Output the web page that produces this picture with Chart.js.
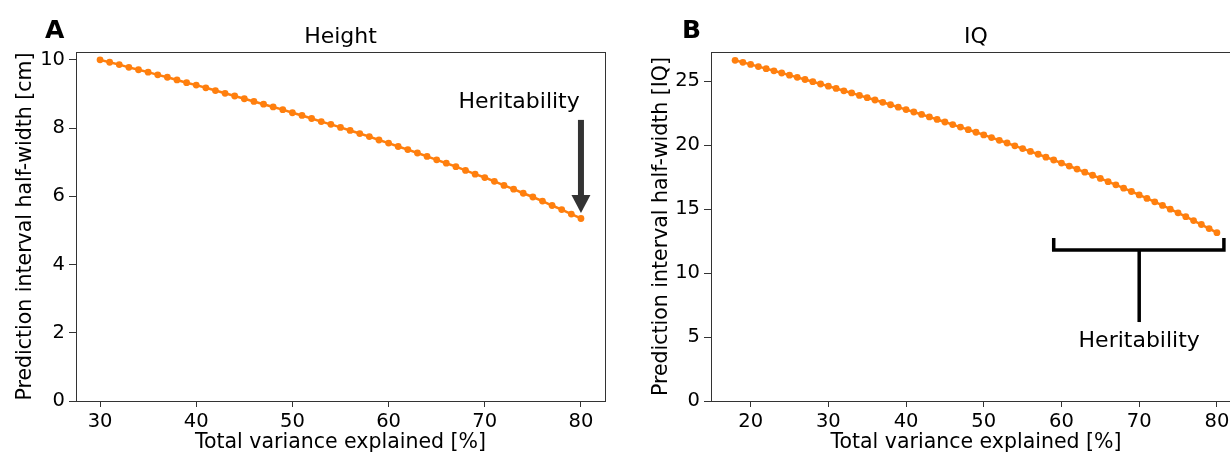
<!DOCTYPE html>
<html><head><meta charset="utf-8">
<script src="https://cdn.jsdelivr.net/npm/chart.js@4"></script>
<style>
html,body{margin:0;padding:0;background:#fff;}
#wrap{position:relative;width:1230px;height:455px;overflow:hidden;background:#fff;}
canvas{position:absolute;top:0;}
</style></head><body>
<div id="wrap">
<canvas id="cA" width="615" height="455" style="left:0px"></canvas>
<canvas id="cB" width="640" height="455" style="left:615px"></canvas>
</div>
<script>
// ---------- Data ----------
const heightVarianceExplained = [30,31,32,33,34,35,36,37,38,39,40,41,42,43,44,45,46,47,48,49,50,51,52,53,54,55,56,57,58,59,60,61,62,63,64,65,66,67,68,69,70,71,72,73,74,75,76,77,78,79,80];
const heightHalfWidth = [10.00,9.93,9.86,9.78,9.71,9.64,9.56,9.49,9.41,9.33,9.26,9.18,9.10,9.02,8.94,8.86,8.78,8.70,8.62,8.54,8.45,8.37,8.28,8.19,8.11,8.02,7.93,7.84,7.75,7.65,7.56,7.46,7.37,7.27,7.17,7.07,6.97,6.87,6.76,6.65,6.55,6.44,6.32,6.21,6.09,5.98,5.86,5.73,5.61,5.48,5.35];
const iqVarianceExplained = [18,19,20,21,22,23,24,25,26,27,28,29,30,31,32,33,34,35,36,37,38,39,40,41,42,43,44,45,46,47,48,49,50,51,52,53,54,55,56,57,58,59,60,61,62,63,64,65,66,67,68,69,70,71,72,73,74,75,76,77,78,79,80];
const iqHalfWidth = [26.62,26.46,26.30,26.13,25.97,25.80,25.63,25.46,25.29,25.12,24.95,24.77,24.60,24.42,24.24,24.07,23.88,23.70,23.52,23.34,23.15,22.96,22.77,22.58,22.39,22.20,22.00,21.80,21.60,21.40,21.20,21.00,20.79,20.58,20.37,20.16,19.94,19.72,19.50,19.28,19.05,18.83,18.59,18.36,18.12,17.88,17.64,17.39,17.14,16.89,16.63,16.37,16.10,15.83,15.56,15.28,14.99,14.70,14.40,14.10,13.79,13.47,13.15];
const heightXTicks = [30,40,50,60,70,80];
const heightYTicks = [0,2,4,6,8,10];
const iqXTicks = [20,30,40,50,60,70,80];
const iqYTicks = [0,5,10,15,20,25];

// ---------- Styling ----------
const FONT = "'DejaVu Sans', 'Liberation Sans', sans-serif";
const ORANGE = '#ff7f0e';
const AXIS = '#333333';

function frameAndTextPlugin(cfg) {
  return {
    id: 'frameText_' + cfg.letter,
    afterDraw(chart) {
      const ctx = chart.ctx;
      const a = chart.chartArea;
      const xs = chart.scales.x, ys = chart.scales.y;
      ctx.save();
      // full frame (top/right spines)
      ctx.strokeStyle = AXIS;
      ctx.lineWidth = 1;
      ctx.strokeRect(Math.round(a.left) + 0.5, Math.round(a.top) + 0.5, Math.round(a.right - a.left) - 1 + 1, Math.round(a.bottom - a.top));
      // panel letter
      ctx.fillStyle = '#000';
      ctx.font = 'bold 25px ' + FONT;
      ctx.textAlign = 'left';
      ctx.textBaseline = 'alphabetic';
      ctx.fillText(cfg.letter, cfg.letterX, 38);
      // title
      ctx.font = '22px ' + FONT;
      ctx.textAlign = 'center';
      ctx.fillText(cfg.title, (a.left + a.right) / 2, 43);
      // annotation
      cfg.annotate(ctx, xs, ys);
      ctx.restore();
    }
  };
}

function makeChart(id, o) {
  return new Chart(document.getElementById(id), {
    type: 'line',
    data: {
      datasets: [{
        data: o.xs.map((x, i) => ({x: x, y: o.ys[i]})),
        borderColor: ORANGE,
        backgroundColor: ORANGE,
        borderWidth: 2.5,
        pointRadius: 3.4,
        pointBorderWidth: 0,
        pointBackgroundColor: ORANGE,
        tension: 0,
        clip: false
      }]
    },
    options: {
      responsive: false,
      animation: false,
      events: [],
      layout: {padding: {top: 52, right: o.padRight, left: 0, bottom: 0}},
      plugins: {legend: {display: false}, tooltip: {enabled: false}, title: {display: false}},
      scales: {
        x: {
          type: 'linear',
          min: o.xMin, max: o.xMax,
          afterBuildTicks: s => { s.ticks = o.xTicks.map(v => ({value: v})); },
          afterFit: s => { s.height = 54; },
          ticks: {font: {family: FONT, size: 19.5}, color: '#000', padding: 3, maxRotation: 0, autoSkip: false},
          grid: {drawOnChartArea: false, drawTicks: true, tickLength: 6, color: AXIS, lineWidth: 1},
          border: {display: true, color: AXIS, width: 1},
          title: {display: true, text: 'Total variance explained [%]', color: '#000', font: {family: FONT, size: 20.5}, padding: {top: 0, bottom: 0}}
        },
        y: {
          type: 'linear',
          min: o.yMin, max: o.yMax,
          afterBuildTicks: s => { s.ticks = o.yTicks.map(v => ({value: v})); },
          afterFit: s => { s.width = o.yWidth; },
          ticks: {font: {family: FONT, size: 19.5}, color: '#000', padding: 4, autoSkip: false},
          grid: {drawOnChartArea: false, drawTicks: true, tickLength: 7, color: AXIS, lineWidth: 1},
          border: {display: true, color: AXIS, width: 1},
          title: {display: true, text: o.yLabel, color: '#000', font: {family: FONT, size: 20.5}, padding: {top: o.yTitlePad, bottom: 0}}
        }
      }
    },
    plugins: [frameAndTextPlugin(o)]
  });
}

// Panel A: Height
makeChart('cA', {
  xs: heightVarianceExplained, ys: heightHalfWidth,
  xMin: 27.5, xMax: 82.5, yMin: 0, yMax: 10.23,
  xTicks: heightXTicks, yTicks: heightYTicks,
  yLabel: 'Prediction interval half-width [cm]',
  yWidth: 76, yTitlePad: 13, padRight: 10,
  letter: 'A', letterX: 45, title: 'Height',
  annotate(ctx, xs, ys) {
    // text
    ctx.fillStyle = '#000';
    ctx.font = '22px ' + FONT;
    ctx.textAlign = 'center';
    ctx.textBaseline = 'alphabetic';
    ctx.fillText('Heritability', xs.getPixelForValue(73.57), ys.getPixelForValue(8.59));
    // arrow
    const x = xs.getPixelForValue(80);
    const yTop = ys.getPixelForValue(8.24), yBase = ys.getPixelForValue(6.04), yTip = ys.getPixelForValue(5.51);
    ctx.fillStyle = '#333';
    ctx.fillRect(x - 3, yTop, 6, yBase - yTop + 1);
    ctx.beginPath();
    ctx.moveTo(x - 9.5, yBase);
    ctx.lineTo(x + 9.5, yBase);
    ctx.lineTo(x, yTip);
    ctx.closePath();
    ctx.fill();
  }
});

// Panel B: IQ
makeChart('cB', {
  xs: iqVarianceExplained, ys: iqHalfWidth,
  xMin: 14.9, xMax: 83.1, yMin: 0, yMax: 27.27,
  xTicks: iqXTicks, yTicks: iqYTicks,
  yLabel: 'Prediction interval half-width [IQ]',
  yWidth: 96, yTitlePad: 34, padRight: 14,
  letter: 'B', letterX: 67, title: 'IQ',
  annotate(ctx, xs, ys) {
    const xl = xs.getPixelForValue(59), xr = xs.getPixelForValue(80.9), xm = xs.getPixelForValue(70);
    const yLine = ys.getPixelForValue(11.8), yEnd = ys.getPixelForValue(12.73), yStem = ys.getPixelForValue(6.17);
    ctx.strokeStyle = '#000';
    ctx.lineWidth = 3.5;
    ctx.lineJoin = 'miter';
    ctx.beginPath();
    ctx.moveTo(xl, yEnd);
    ctx.lineTo(xl, yLine);
    ctx.lineTo(xr, yLine);
    ctx.lineTo(xr, yEnd);
    ctx.stroke();
    ctx.beginPath();
    ctx.moveTo(xm, yLine);
    ctx.lineTo(xm, yStem);
    ctx.stroke();
    ctx.fillStyle = '#000';
    ctx.font = '22px ' + FONT;
    ctx.textAlign = 'center';
    ctx.textBaseline = 'alphabetic';
    ctx.fillText('Heritability', xm, ys.getPixelForValue(4.22));
  }
});
</script>
</body></html>
